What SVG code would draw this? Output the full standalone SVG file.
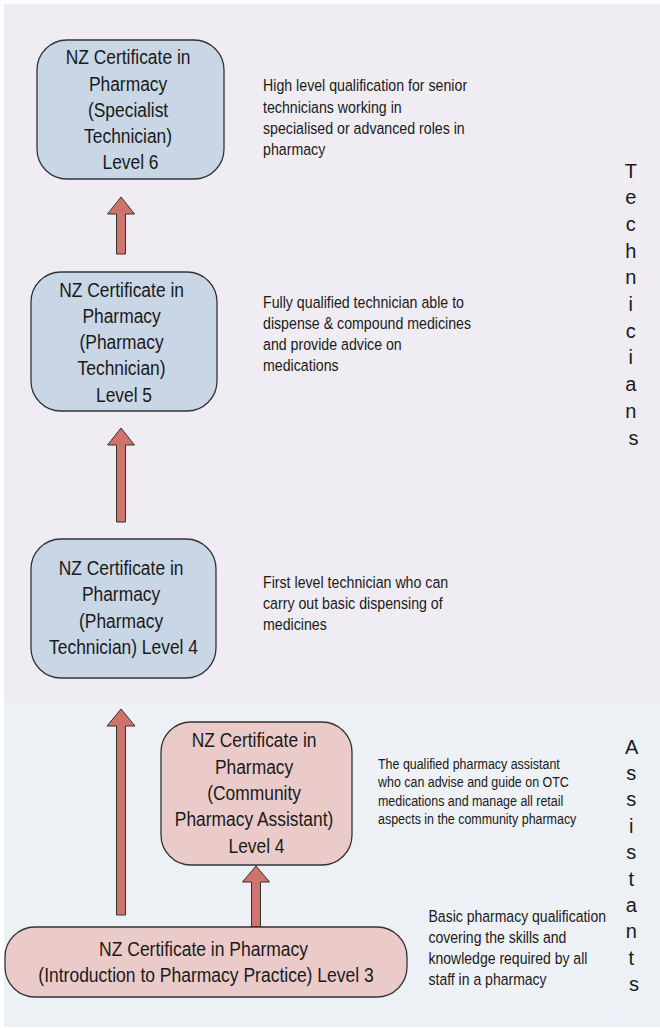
<svg xmlns="http://www.w3.org/2000/svg" width="660" height="1028" viewBox="0 0 660 1028">
<style>
.bg-top{fill:#efedf3}
.bg-bot{fill:#edf0f5}
.note-bg{fill:#eef1f6;stroke:#e7eaf0;stroke-width:0.5}
.box{stroke:#333333;stroke-width:1.3}
.blue{fill:#c8d6e5}
.pink{fill:#ebcbca}
.arrow{fill:#d0736b;stroke:#333333;stroke-width:1}
.bt{font-family:"Liberation Sans",Arial,sans-serif;font-size:20px;fill:#1a1a1a;text-anchor:middle}
.dt{font-family:"Liberation Sans",Arial,sans-serif;font-size:16.5px;fill:#1a1a1a}
.dts{font-family:"Liberation Sans",Arial,sans-serif;font-size:15px;fill:#1a1a1a}
.side{font-family:"Liberation Sans",Arial,sans-serif;font-size:20px;fill:#1a1a1a;text-anchor:middle}
</style>
<rect x="0" y="0" width="660" height="1028" fill="#ffffff"/>
<rect class="bg-top" x="4" y="4" width="656" height="699.5"/>
<rect class="bg-bot" x="4" y="703.5" width="656" height="323.5"/>

<g id="connectors">
<polygon class="arrow" points="121,197 134.5,214 125.5,214 125.5,254 116.5,254 116.5,214 107.5,214"/>
<polygon class="arrow" points="121,428 134.5,445 125.5,445 125.5,522 116.5,522 116.5,445 107.5,445"/>
<polygon class="arrow" points="121,709 135,726 125.5,726 125.5,915 116.5,915 116.5,726 107,726"/>
<polygon class="arrow" points="256,866 269.5,882 260.5,882 260.5,927 251.5,927 251.5,882 242.5,882"/>
</g>

<g id="node-specialist">
<rect class="box blue" x="37" y="40" width="187" height="139" rx="30" ry="30"/>
<text class="bt" transform="translate(130.5 0) scale(0.87 1)">
<tspan x="0" y="64.3">NZ Certificate in</tspan>
<tspan x="0" y="90.6">Pharmacy</tspan>
<tspan x="0" y="116.9">(Specialist</tspan>
<tspan x="0" y="143.2">Technician)</tspan>
<tspan x="0" y="169.5">Level 6</tspan>
</text>
</g>

<g id="desc-specialist">
<text class="dt" transform="translate(263 0) scale(0.86 1)">
<tspan x="0" y="91.5">High level qualification for senior</tspan>
<tspan x="0" y="112.6">technicians working in</tspan>
<tspan x="0" y="133.7">specialised or advanced roles in</tspan>
<tspan x="0" y="154.8">pharmacy</tspan>
</text>
</g>

<g id="node-tech5">
<rect class="box blue" x="31" y="272" width="186" height="139" rx="30" ry="30"/>
<text class="bt" transform="translate(124 0) scale(0.87 1)">
<tspan x="0" y="296.7">NZ Certificate in</tspan>
<tspan x="0" y="323">Pharmacy</tspan>
<tspan x="0" y="349.2">(Pharmacy</tspan>
<tspan x="0" y="375.5">Technician)</tspan>
<tspan x="0" y="401.7">Level 5</tspan>
</text>
</g>

<g id="desc-tech5">
<text class="dt" transform="translate(263 0) scale(0.86 1)">
<tspan x="0" y="308.5">Fully qualified technician able to</tspan>
<tspan x="0" y="329.5">dispense &amp; compound medicines</tspan>
<tspan x="0" y="350.5">and provide advice on</tspan>
<tspan x="0" y="371.5">medications</tspan>
</text>
</g>

<g id="node-tech4">
<rect class="box blue" x="31" y="539" width="185" height="139" rx="30" ry="30"/>
<text class="bt" transform="translate(123.5 0) scale(0.87 1)">
<tspan x="0" y="575">NZ Certificate in</tspan>
<tspan x="0" y="601.4">Pharmacy</tspan>
<tspan x="0" y="627.8">(Pharmacy</tspan>
<tspan x="0" y="654.2">Technician) Level 4</tspan>
</text>
</g>

<g id="desc-tech4">
<text class="dt" transform="translate(263 0) scale(0.86 1)">
<tspan x="0" y="588.5">First level technician who can</tspan>
<tspan x="0" y="609.5">carry out basic dispensing of</tspan>
<tspan x="0" y="630.5">medicines</tspan>
</text>
</g>

<g id="node-community">
<rect class="box pink" x="161" y="722" width="191" height="143" rx="30" ry="30"/>
<text class="bt" transform="translate(256.5 0) scale(0.87 1)">
<tspan x="0" y="747.3">NZ Certificate in</tspan>
<tspan x="0" y="773.6">Pharmacy</tspan>
<tspan x="0" y="800">(Community</tspan>
<tspan x="0" y="826.3">Pharmacy Assistant)</tspan>
<tspan x="0" y="852.7">Level 4</tspan>
</text>
</g>

<g id="desc-community">
<rect class="note-bg" x="372" y="743" width="223" height="119"/>
<text class="dts" transform="translate(378 0) scale(0.83 1)">
<tspan x="0" y="769">The qualified pharmacy assistant</tspan>
<tspan x="0" y="787.3">who can advise and guide on OTC</tspan>
<tspan x="0" y="805.6">medications and manage all retail</tspan>
<tspan x="0" y="823.9">aspects in the community pharmacy</tspan>
</text>
</g>

<g id="node-intro">
<rect class="box pink" x="5" y="927" width="402" height="70" rx="30" ry="30"/>
<text class="bt" transform="translate(206 0) scale(0.875 1)">
<tspan x="0" y="955.7">NZ Certificate in Pharmacy</tspan>
<tspan x="0" y="981.7">(Introduction to Pharmacy Practice) Level 3</tspan>
</text>
</g>

<g id="desc-intro">
<rect class="note-bg" x="422" y="900" width="200" height="118"/>
<text class="dt" transform="translate(428.5 0) scale(0.85 1)">
<tspan x="0" y="922.5">Basic pharmacy qualification</tspan>
<tspan x="0" y="943.3">covering the skills and</tspan>
<tspan x="0" y="964.1">knowledge required by all</tspan>
<tspan x="0" y="984.9">staff in a pharmacy</tspan>
</text>
</g>

<g id="label-technicians">
<text class="side">
<tspan x="633.5" y="177.5">T</tspan>
<tspan x="633.5" y="204.2">e</tspan>
<tspan x="633.5" y="230.9">c</tspan>
<tspan x="633.5" y="257.6">h</tspan>
<tspan x="633.5" y="284.3">n</tspan>
<tspan x="633.5" y="311">i</tspan>
<tspan x="633.5" y="337.7">c</tspan>
<tspan x="633.5" y="364.4">i</tspan>
<tspan x="633.5" y="391.1">a</tspan>
<tspan x="633.5" y="417.8">n</tspan>
<tspan x="633.5" y="444.5">s</tspan>
</text>
</g>

<g id="label-assistants">
<text class="side">
<tspan x="634" y="753.5">A</tspan>
<tspan x="634" y="779.9">s</tspan>
<tspan x="634" y="806.3">s</tspan>
<tspan x="634" y="832.7">i</tspan>
<tspan x="634" y="859.1">s</tspan>
<tspan x="634" y="885.5">t</tspan>
<tspan x="634" y="911.9">a</tspan>
<tspan x="634" y="938.3">n</tspan>
<tspan x="634" y="964.7">t</tspan>
<tspan x="634" y="991.1">s</tspan>
</text>
</g>
</svg>
